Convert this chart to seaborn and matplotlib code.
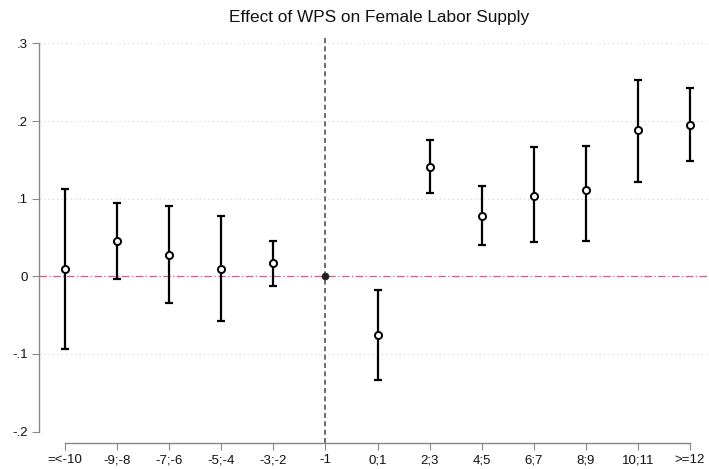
import pandas as pd
import matplotlib.pyplot as plt
import seaborn as sns

# Event-study estimates
periods = ["=<-10", "-9;-8", "-7;-6", "-5;-4", "-3;-2", "-1",
           "0;1", "2;3", "4;5", "6;7", "8;9", "10;11", ">=12"]
coef = [0.010, 0.045, 0.028, 0.010, 0.017, 0.0,
        -0.076, 0.141, 0.078, 0.104, 0.111, 0.188, 0.195]
ci_low = [-0.093, -0.003, -0.035, -0.058, -0.012, 0.0,
          -0.134, 0.108, 0.041, 0.044, 0.045, 0.122, 0.148]
ci_high = [0.112, 0.094, 0.090, 0.078, 0.045, 0.0,
           -0.017, 0.176, 0.117, 0.166, 0.168, 0.253, 0.242]
y_ticks = [-0.2, -0.1, 0, 0.1, 0.2, 0.3]
y_labels = ["-.2", "-.1", "0", ".1", ".2", ".3"]

df = pd.DataFrame({"period": periods, "coef": coef, "lo": ci_low, "hi": ci_high})
df["pos"] = range(len(df))
ref = df["period"] == "-1"

sns.set_style("white")
plt.rcParams["font.family"] = ["Liberation Sans", "DejaVu Sans"]

fig = plt.figure(figsize=(7.09, 4.69), dpi=100)
ax = fig.add_axes([0.055, 0.0555, 0.944, 0.87])

# grid lines (Stata style dotted)
for v in [-0.1, 0.1, 0.2, 0.3]:
    ax.axhline(v, color="#d0d0d0", lw=0.8, ls=(0, (1, 3)), zorder=0)

ax.axhline(0, color="#e0559a", lw=0.9, ls=(0, (6, 2, 1, 2)), zorder=1)
ax.axvline(5, color="#555555", lw=1.2, ls=(0, (3, 2)), zorder=1)

est = df[~ref]
ax.errorbar(est["pos"], est["coef"],
            yerr=[est["coef"] - est["lo"], est["hi"] - est["coef"]],
            fmt="none", ecolor="black", elinewidth=1.6, capsize=3.2,
            capthick=1.6, zorder=2)
sns.scatterplot(data=est, x="pos", y="coef", ax=ax, s=26,
                facecolor="white", edgecolor="black", linewidth=1.4,
                zorder=3, legend=False)
sns.scatterplot(data=df[ref], x="pos", y="coef", ax=ax, s=26,
                color="#222222", edgecolor="#222222", zorder=3, legend=False)

ax.set_xlim(-0.5, 12.35)
ax.set_ylim(-0.2147, 0.311)
ax.set_xticks(df["pos"])
ax.set_xticklabels(periods)
ax.set_yticks(y_ticks)
ax.set_yticklabels(y_labels)
ax.set_xlabel("")
ax.set_ylabel("")
ax.tick_params(axis="both", length=5, color="#888888", labelsize=9.5,
               labelcolor="#111111", left=True, bottom=True, pad=3)

for side in ["top", "right"]:
    ax.spines[side].set_visible(False)
for side in ["left", "bottom"]:
    ax.spines[side].set_color("#888888")
    ax.spines[side].set_linewidth(1.0)
ax.spines["left"].set_bounds(-0.2, 0.3)
ax.spines["bottom"].set_bounds(0, 12)

fig.text(0.535, 0.963, "Effect of WPS on Female Labor Supply",
         ha="center", va="center", fontsize=12.4, color="#111111")

fig.savefig("out.png", dpi=100)
